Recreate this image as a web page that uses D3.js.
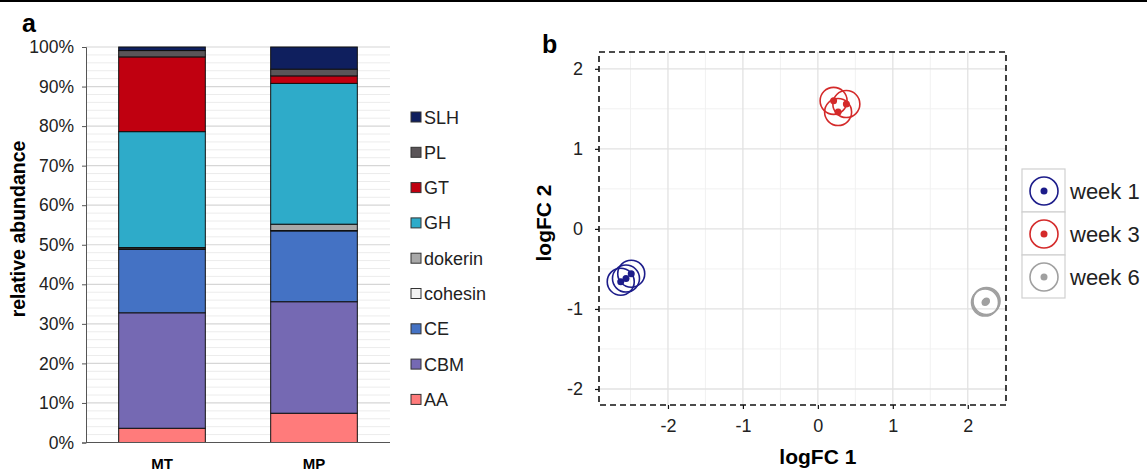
<!DOCTYPE html>
<html><head><meta charset="utf-8">
<script src="https://cdn.jsdelivr.net/npm/d3@7"></script>
<style>body{margin:0;background:#fff}svg{display:block;font-family:"Liberation Sans",Arial,sans-serif}</style>
</head><body>
<svg id="c" width="1147" height="471"></svg>
<script>
// ---- Panel a data ----
const samples = ["MT", "MP"];
const families = ["AA", "CBM", "CE", "cohesin", "dokerin", "GH", "GT", "PL", "SLH"];
const familyColors = ["#ff7b7b", "#7569b3", "#4472c4", "#f2f2f2", "#a8a8a8", "#2eabc9", "#c00010", "#5a5558", "#0f1f5e"];
const valuesMT = [3.6, 29.2, 16.0, 0.2, 0.3, 29.3, 18.9, 1.6, 0.9];
const valuesMP = [7.4, 28.2, 17.9, 0.1, 1.6, 35.6, 1.9, 1.7, 5.6];
const yTicksA = [0, 10, 20, 30, 40, 50, 60, 70, 80, 90, 100];
const legendOrder = ["SLH", "PL", "GT", "GH", "dokerin", "cohesin", "CE", "CBM", "AA"];

// ---- Panel b data ----
const weeks = ["week 1", "week 3", "week 6"];
const weekColors = ["#1c1c8a", "#d42a2a", "#a0a0a0"];
const week1X = [-2.63, -2.56, -2.49];
const week1Y = [-0.66, -0.62, -0.56];
const week3X = [0.21, 0.38, 0.27];
const week3Y = [1.60, 1.56, 1.46];
const week6X = [2.23, 2.25, 2.24];
const week6Y = [-0.92, -0.90, -0.91];
const bTicks = [-2, -1, 0, 1, 2];

const svg = d3.select("#c");
svg.append("line").attr("x1",0).attr("x2",1147).attr("y1",1).attr("y2",1).attr("stroke","#000").attr("stroke-width",2);

// ===== Panel a =====
const xa = d3.scaleBand().domain(samples).range([86, 390]).paddingInner(0.43).paddingOuter(0.215);
const ya = d3.scaleLinear().domain([0, 100]).range([442.5, 47]);
const ga = svg.append("g");
ga.selectAll("line.mn").data(d3.range(0, 101, 2).filter(v => v % 10 !== 0)).join("line")
  .attr("x1", 86).attr("x2", 390).attr("y1", d => ya(d)).attr("y2", d => ya(d))
  .attr("stroke", "#ececec").attr("stroke-width", 1);
ga.selectAll("line.mj").data(yTicksA.slice(1)).join("line")
  .attr("x1", 86).attr("x2", 390).attr("y1", d => ya(d)).attr("y2", d => ya(d))
  .attr("stroke", "#d6d6d6").attr("stroke-width", 1.2);

const rows = samples.map((s, i) => {
  const o = {sample: s};
  const vals = i === 0 ? valuesMT : valuesMP;
  families.forEach((f, j) => o[f] = vals[j]);
  return o;
});
const stack = d3.stack().keys(families)(rows);
const color = d3.scaleOrdinal().domain(families).range(familyColors);
ga.selectAll("g.s").data(stack).join("g").attr("fill", d => color(d.key))
  .selectAll("rect").data(d => d).join("rect")
  .attr("x", d => xa(d.data.sample)).attr("width", xa.bandwidth())
  .attr("y", d => ya(d[1])).attr("height", d => ya(d[0]) - ya(d[1]))
  .attr("stroke", "#111").attr("stroke-width", 1);

const axA = ga.append("g").attr("transform", "translate(86,0)")
  .call(d3.axisLeft(ya).tickValues(yTicksA).tickFormat(d => d + "%").tickSize(4).tickPadding(8));
axA.select(".domain").attr("stroke", "#555");
axA.selectAll(".tick line").attr("stroke", "#555");
axA.selectAll("text").attr("font-size", 17.5).attr("fill", "#222").attr("font-family", "Liberation Sans, Arial");
ga.append("line").attr("x1", 86).attr("x2", 390).attr("y1", 442.5).attr("y2", 442.5).attr("stroke", "#555").attr("stroke-width", 1.2);
ga.selectAll("text.xl").data(samples).join("text")
  .attr("x", d => xa(d) + xa.bandwidth() / 2).attr("y", 469)
  .attr("text-anchor", "middle").attr("font-weight", "bold").attr("font-size", 15).text(d => d);
ga.append("text").attr("transform", "translate(25,229) rotate(-90)").attr("text-anchor", "middle")
  .attr("font-weight", "bold").attr("font-size", 19.5).text("relative abundance");
svg.append("text").attr("x", 22).attr("y", 32).attr("font-weight", "bold").attr("font-size", 25).text("a");

const lg = ga.selectAll("g.lg").data(legendOrder).join("g")
  .attr("transform", (d, i) => `translate(411,${117 + i * 35.3})`);
lg.append("rect").attr("x", 0).attr("y", -5).attr("width", 10).attr("height", 10)
  .attr("fill", d => color(d)).attr("stroke", "#333").attr("stroke-width", 1);
lg.append("text").attr("x", 13).attr("y", 6.5).attr("font-size", 18).attr("fill", "#222").text(d => d);

// ===== Panel b =====
const xb = d3.scaleLinear().domain([-2.92, 2.51]).range([599, 1006]);
const yb = d3.scaleLinear().domain([-2.2, 2.21]).range([405, 52]);
const gb = svg.append("g");
const halves = d3.range(-3, 3.01, 0.5).filter(v => !Number.isInteger(v));
gb.selectAll("line.vx").data(halves.filter(v => v > -2.92 && v < 2.51)).join("line")
  .attr("x1", d => xb(d)).attr("x2", d => xb(d)).attr("y1", 52).attr("y2", 405).attr("stroke", "#f1f1f1");
gb.selectAll("line.hy").data(halves.filter(v => v > -2.2 && v < 2.21)).join("line")
  .attr("y1", d => yb(d)).attr("y2", d => yb(d)).attr("x1", 599).attr("x2", 1006).attr("stroke", "#f1f1f1");
gb.selectAll("line.vX").data(bTicks).join("line")
  .attr("x1", d => xb(d)).attr("x2", d => xb(d)).attr("y1", 52).attr("y2", 405).attr("stroke", "#e2e2e2").attr("stroke-width", 1.3);
gb.selectAll("line.hY").data(bTicks).join("line")
  .attr("y1", d => yb(d)).attr("y2", d => yb(d)).attr("x1", 599).attr("x2", 1006).attr("stroke", "#e2e2e2").attr("stroke-width", 1.3);

const pts = [];
[[week1X, week1Y], [week3X, week3Y], [week6X, week6Y]].forEach((p, i) => {
  p[0].forEach((x, j) => pts.push({w: i, x: x, y: p[1][j]}));
});
gb.selectAll("circle.ring").data(pts).join("circle")
  .attr("cx", d => xb(d.x)).attr("cy", d => yb(d.y)).attr("r", 13.5)
  .attr("fill", "none").attr("stroke", d => weekColors[d.w]).attr("stroke-width", 1.6);
gb.selectAll("circle.dot").data(pts).join("circle")
  .attr("cx", d => xb(d.x)).attr("cy", d => yb(d.y)).attr("r", 3.5)
  .attr("fill", d => weekColors[d.w]);

gb.append("rect").attr("x", 599).attr("y", 52).attr("width", 407).attr("height", 353)
  .attr("fill", "none").attr("stroke", "#111").attr("stroke-width", 1.6).attr("stroke-dasharray", "6,4");

const fmt = d => String(d);
const axBy = gb.append("g").attr("transform", "translate(599,0)")
  .call(d3.axisLeft(yb).tickValues(bTicks).tickFormat(fmt).tickSize(4).tickPadding(12));
axBy.select(".domain").remove();
axBy.selectAll(".tick line").attr("stroke", "#111").attr("stroke-width", 1.2);
axBy.selectAll("text").attr("font-size", 18).attr("fill", "#222").attr("font-family", "Liberation Sans, Arial");
const axBx = gb.append("g").attr("transform", "translate(0,405)")
  .call(d3.axisBottom(xb).tickValues(bTicks).tickFormat(fmt).tickSize(4).tickPadding(10));
axBx.select(".domain").remove();
axBx.selectAll(".tick line").attr("stroke", "#111").attr("stroke-width", 1.2);
axBx.selectAll("text").attr("font-size", 18).attr("fill", "#222").attr("font-family", "Liberation Sans, Arial");

gb.append("text").attr("x", xb(0)).attr("y", 464).attr("text-anchor", "middle")
  .attr("font-weight", "bold").attr("font-size", 21).text("logFC 1");
gb.append("text").attr("transform", `translate(551,223) rotate(-90)`).attr("text-anchor", "middle")
  .attr("font-weight", "bold").attr("font-size", 21).text("logFC 2");
svg.append("text").attr("x", 542).attr("y", 53).attr("font-weight", "bold").attr("font-size", 25).text("b");

const lb = gb.selectAll("g.lb").data(weeks).join("g")
  .attr("transform", (d, i) => `translate(1022,${169 + i * 43})`);
lb.append("rect").attr("width", 43).attr("height", 43).attr("fill", "#fff").attr("stroke", "#d0d0d0").attr("stroke-width", 1.2);
lb.append("circle").attr("cx", 22).attr("cy", 22).attr("r", 14).attr("fill", "none")
  .attr("stroke", (d, i) => weekColors[i]).attr("stroke-width", 1.6);
lb.append("circle").attr("cx", 22).attr("cy", 22).attr("r", 3.5).attr("fill", (d, i) => weekColors[i]);
lb.append("text").attr("x", 48).attr("y", 30).attr("font-size", 22).attr("fill", "#222").text(d => d);
</script>
</body></html>
